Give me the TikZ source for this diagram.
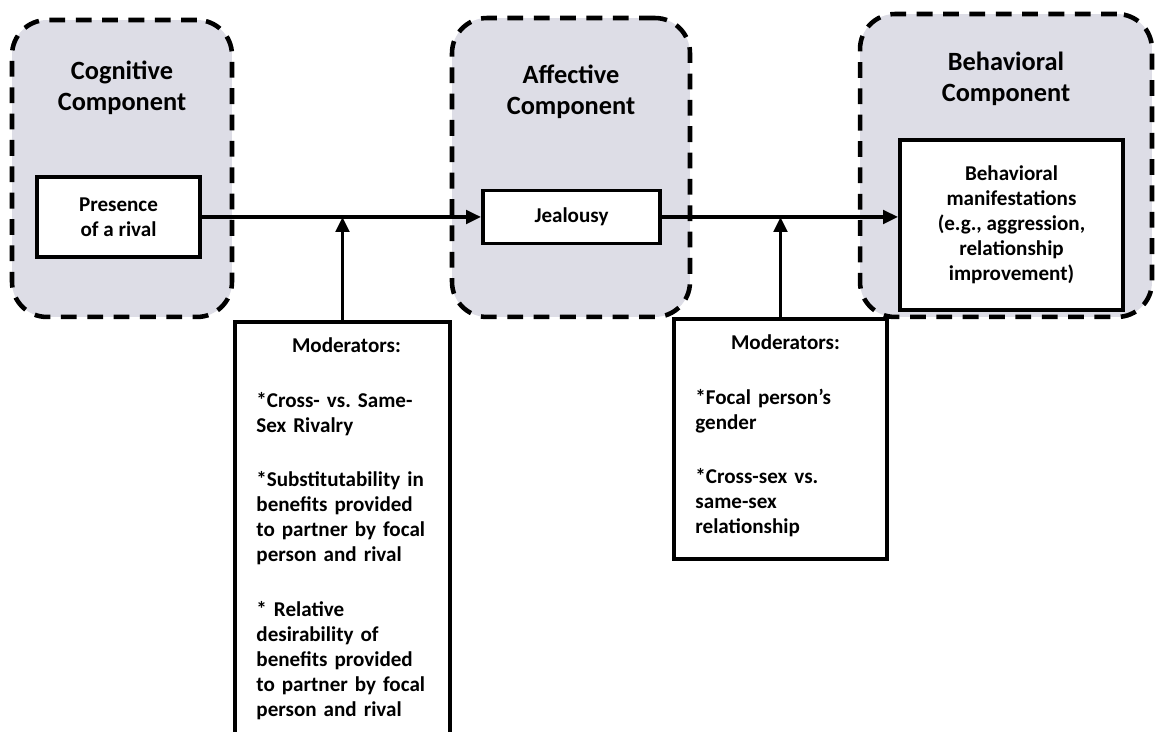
\documentclass[tikz,border=0pt]{standalone}
\usepackage{fontspec}
\setmainfont{Carlito}
\usepackage{tikz}
\usepackage{xcolor}
\usetikzlibrary{arrows.meta, positioning}
\definecolor{compfill}{RGB}{221,221,230}
\definecolor{linecol}{RGB}{0,0,0}
\tikzset{
  compframe/.style={rectangle,draw=linecol,line width=2.6pt,dash pattern=on 9pt off 6pt,
    rounded corners=0.7cm,fill=compfill},
  comptitle/.style={font=\bfseries\fontsize{15}{18}\selectfont,align=center,inner sep=0pt},
  varbox/.style={rectangle,draw=linecol,line width=2.2pt,fill=white,align=center,
    font=\bfseries\fontsize{12}{14.2}\selectfont,inner sep=2pt,
    execute at begin node={\spaceskip=0pt\xspaceskip=0pt\frenchspacing}},
  modbox/.style={rectangle,draw=linecol,line width=2.2pt,fill=white},
  modtext/.style={font=\bfseries\fontsize{12}{14.2}\selectfont,text width=3.6cm,inner sep=0pt,
    execute at begin node={\raggedright\frenchspacing}},
  flowarrow/.style={-{Triangle[length=0.3cm,width=0.27cm]},line width=2pt,linecol},
}
\begin{document}
\begin{tikzpicture}[x=0.02cm,y=-0.02cm]
  \useasboundingbox (0,0) rectangle (1156,732);
  \clip (0,0) rectangle (1156,732);
  % component frames
  \node[compframe,minimum width=4.4cm,minimum height=5.94cm]  (cogframe) at (122,168.5) {};
  \node[compframe,minimum width=4.76cm,minimum height=5.98cm] (affframe) at (571,167.5) {};
  \node[compframe,minimum width=5.84cm,minimum height=6.06cm] (behframe) at (1006,165.5) {};
  \node[comptitle] (cogtitle) at (122,88) {Cognitive\\Component};
  \node[comptitle] (afftitle) at (571,92) {Affective\\Component};
  \node[comptitle] (behtitle) at (1006,79) {Behavioral\\Component};
  % variables
  \node[varbox,minimum width=3.26cm,minimum height=1.6cm]  (rival) at (118.5,217) {Presence\\of a rival};
  \node[varbox,minimum width=3.54cm,minimum height=1.06cm] (jeal)  at (571.5,217) {Jealousy};
  \node[varbox,minimum width=4.46cm,minimum height=3.4cm]  (behman) at (1011.5,225)
    {Behavioral\\manifestations\\(e.g., aggression,\\relationship\\improvement)};
  % moderators
  \node[modbox,anchor=north,minimum width=4.3cm,minimum height=9cm]    (modA) at (342.5,320) {};
  \node[modbox,anchor=north,minimum width=4.26cm,minimum height=4.8cm]  (modB) at (780.5,317) {};
  \node[modtext,below right=0.34cm and 0.46cm of modA.north west] (modAtxt)
    {{\centering Moderators:\par}\vspace{0.6cm}
     *Cross- vs. Same-\\Sex Rivalry\\[0.6cm]
     *Substitutability in\\benefits provided\\to partner by focal\\person and rival\\[0.6cm]
     * Relative\\desirability of\\benefits provided\\to partner by focal\\person and rival};
  \node[modtext,below right=0.34cm and 0.46cm of modB.north west] (modBtxt)
    {{\centering Moderators:\par}\vspace{0.6cm}
     *Focal person’s\\gender\\[0.6cm]
     *Cross-sex vs.\\same-sex\\relationship};
  % flow
  \draw[flowarrow] (rival.east) -- (jeal.west);
  \draw[flowarrow] (jeal.east) -- (jeal.east -| behman.west);
  \draw[flowarrow] (modA.north) -- (modA.north |- rival.east);
  \draw[flowarrow] (modB.north) -- (modB.north |- jeal.east);
\end{tikzpicture}
\end{document}
